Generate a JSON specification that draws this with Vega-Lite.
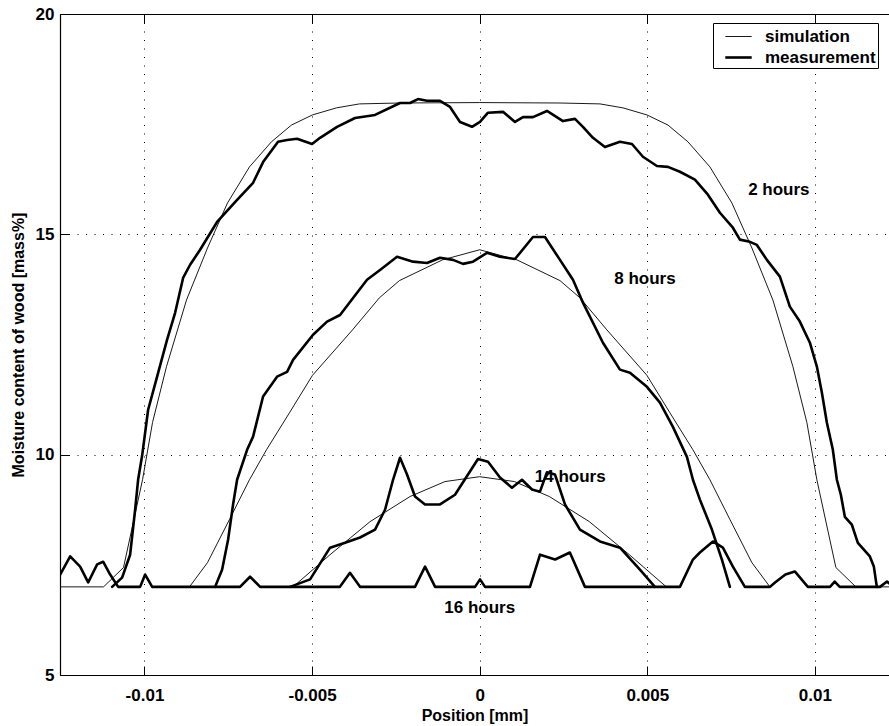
{
"$schema": "https://vega.github.io/schema/vega-lite/v6.json",
"width": 829, "height": 661,
"autosize": "none",
"padding": {"left": 60, "top": 14, "right": 0, "bottom": 51},
"background": "white",
"config": {"view": {"stroke": null}, "font": "Liberation Sans"},
"resolve": {"axis": {"x": "independent"}},
"datasets": {
"curves": [
{"curve":"s2","type":"simulation","x":-0.01252,"y":7.0},{"curve":"s2","type":"simulation","x":-0.011221,"y":7.0},{"curve":"s2","type":"simulation","x":-0.010625,"y":7.44},{"curve":"s2","type":"simulation","x":-0.010058,"y":9.43},{"curve":"s2","type":"simulation","x":-0.00976,"y":10.73},{"curve":"s2","type":"simulation","x":-0.009343,"y":12.0},{"curve":"s2","type":"simulation","x":-0.008746,"y":13.51},{"curve":"s2","type":"simulation","x":-0.00812,"y":14.69},{"curve":"s2","type":"simulation","x":-0.007524,"y":15.71},{"curve":"s2","type":"simulation","x":-0.006868,"y":16.53},{"curve":"s2","type":"simulation","x":-0.006212,"y":17.1},{"curve":"s2","type":"simulation","x":-0.005615,"y":17.48},{"curve":"s2","type":"simulation","x":-0.004989,"y":17.71},{"curve":"s2","type":"simulation","x":-0.004273,"y":17.87},{"curve":"s2","type":"simulation","x":-0.003587,"y":17.96},{"curve":"s2","type":"simulation","x":-0.002395,"y":17.98},{"curve":"s2","type":"simulation","x":0,"y":17.99},{"curve":"s2","type":"simulation","x":0.002395,"y":17.98},{"curve":"s2","type":"simulation","x":0.003587,"y":17.96},{"curve":"s2","type":"simulation","x":0.004273,"y":17.87},{"curve":"s2","type":"simulation","x":0.004989,"y":17.71},{"curve":"s2","type":"simulation","x":0.005615,"y":17.48},{"curve":"s2","type":"simulation","x":0.006212,"y":17.1},{"curve":"s2","type":"simulation","x":0.006868,"y":16.53},{"curve":"s2","type":"simulation","x":0.007524,"y":15.71},{"curve":"s2","type":"simulation","x":0.00812,"y":14.69},{"curve":"s2","type":"simulation","x":0.008746,"y":13.51},{"curve":"s2","type":"simulation","x":0.009343,"y":12.0},{"curve":"s2","type":"simulation","x":0.00976,"y":10.73},{"curve":"s2","type":"simulation","x":0.010058,"y":9.43},{"curve":"s2","type":"simulation","x":0.010625,"y":7.44},{"curve":"s2","type":"simulation","x":0.011221,"y":7.0},{"curve":"s2","type":"simulation","x":0.01221,"y":7.0},

{"curve":"m2","type":"measurement","x":-0.010965,"y":7.0},{"curve":"m2","type":"measurement","x":-0.010667,"y":7.21},{"curve":"m2","type":"measurement","x":-0.010428,"y":7.73},{"curve":"m2","type":"measurement","x":-0.010279,"y":8.75},{"curve":"m2","type":"measurement","x":-0.01019,"y":9.43},{"curve":"m2","type":"measurement","x":-0.01007,"y":9.98},{"curve":"m2","type":"measurement","x":-0.009891,"y":11.02},{"curve":"m2","type":"measurement","x":-0.009623,"y":11.77},{"curve":"m2","type":"measurement","x":-0.009325,"y":12.61},{"curve":"m2","type":"measurement","x":-0.009086,"y":13.22},{"curve":"m2","type":"measurement","x":-0.008848,"y":14.01},{"curve":"m2","type":"measurement","x":-0.008639,"y":14.31},{"curve":"m2","type":"measurement","x":-0.008341,"y":14.65},{"curve":"m2","type":"measurement","x":-0.007834,"y":15.28},{"curve":"m2","type":"measurement","x":-0.007237,"y":15.78},{"curve":"m2","type":"measurement","x":-0.00676,"y":16.17},{"curve":"m2","type":"measurement","x":-0.006462,"y":16.64},{"curve":"m2","type":"measurement","x":-0.006015,"y":17.1},{"curve":"m2","type":"measurement","x":-0.005746,"y":17.14},{"curve":"m2","type":"measurement","x":-0.005448,"y":17.17},{"curve":"m2","type":"measurement","x":-0.005001,"y":17.05},{"curve":"m2","type":"measurement","x":-0.004762,"y":17.19},{"curve":"m2","type":"measurement","x":-0.004255,"y":17.44},{"curve":"m2","type":"measurement","x":-0.003719,"y":17.64},{"curve":"m2","type":"measurement","x":-0.003122,"y":17.71},{"curve":"m2","type":"measurement","x":-0.002377,"y":17.98},{"curve":"m2","type":"measurement","x":-0.002078,"y":17.98},{"curve":"m2","type":"measurement","x":-0.00184,"y":18.07},{"curve":"m2","type":"measurement","x":-0.001572,"y":18.03},{"curve":"m2","type":"measurement","x":-0.001184,"y":18.03},{"curve":"m2","type":"measurement","x":-0.000886,"y":17.89},{"curve":"m2","type":"measurement","x":-0.000587,"y":17.55},{"curve":"m2","type":"measurement","x":-0.00023,"y":17.44},{"curve":"m2","type":"measurement","x":0.000009,"y":17.55},{"curve":"m2","type":"measurement","x":0.000248,"y":17.76},{"curve":"m2","type":"measurement","x":0.000695,"y":17.78},{"curve":"m2","type":"measurement","x":0.001053,"y":17.55},{"curve":"m2","type":"measurement","x":0.001291,"y":17.66},{"curve":"m2","type":"measurement","x":0.001589,"y":17.66},{"curve":"m2","type":"measurement","x":0.002007,"y":17.8},{"curve":"m2","type":"measurement","x":0.002484,"y":17.57},{"curve":"m2","type":"measurement","x":0.002842,"y":17.62},{"curve":"m2","type":"measurement","x":0.00308,"y":17.44},{"curve":"m2","type":"measurement","x":0.003379,"y":17.19},{"curve":"m2","type":"measurement","x":0.003736,"y":16.98},{"curve":"m2","type":"measurement","x":0.004184,"y":17.1},{"curve":"m2","type":"measurement","x":0.004542,"y":17.05},{"curve":"m2","type":"measurement","x":0.00487,"y":16.76},{"curve":"m2","type":"measurement","x":0.005287,"y":16.55},{"curve":"m2","type":"measurement","x":0.005615,"y":16.53},{"curve":"m2","type":"measurement","x":0.005973,"y":16.42},{"curve":"m2","type":"measurement","x":0.00642,"y":16.24},{"curve":"m2","type":"measurement","x":0.006808,"y":15.9},{"curve":"m2","type":"measurement","x":0.007166,"y":15.49},{"curve":"m2","type":"measurement","x":0.007553,"y":15.15},{"curve":"m2","type":"measurement","x":0.007762,"y":14.88},{"curve":"m2","type":"measurement","x":0.00806,"y":14.83},{"curve":"m2","type":"measurement","x":0.008269,"y":14.76},{"curve":"m2","type":"measurement","x":0.008567,"y":14.42},{"curve":"m2","type":"measurement","x":0.008955,"y":14.04},{"curve":"m2","type":"measurement","x":0.009253,"y":13.36},{"curve":"m2","type":"measurement","x":0.009551,"y":13.02},{"curve":"m2","type":"measurement","x":0.00985,"y":12.54},{"curve":"m2","type":"measurement","x":0.010058,"y":12.0},{"curve":"m2","type":"measurement","x":0.010207,"y":11.41},{"curve":"m2","type":"measurement","x":0.010356,"y":10.73},{"curve":"m2","type":"measurement","x":0.010535,"y":10.11},{"curve":"m2","type":"measurement","x":0.010655,"y":9.43},{"curve":"m2","type":"measurement","x":0.010774,"y":9.09},{"curve":"m2","type":"measurement","x":0.010893,"y":8.59},{"curve":"m2","type":"measurement","x":0.011102,"y":8.41},{"curve":"m2","type":"measurement","x":0.011281,"y":8.0},{"curve":"m2","type":"measurement","x":0.011639,"y":7.69},{"curve":"m2","type":"measurement","x":0.011758,"y":7.46},{"curve":"m2","type":"measurement","x":0.011847,"y":7.0},

{"curve":"s8","type":"simulation","x":-0.008657,"y":7.0},{"curve":"s8","type":"simulation","x":-0.00812,"y":7.55},{"curve":"s8","type":"simulation","x":-0.007464,"y":8.53},{"curve":"s8","type":"simulation","x":-0.006868,"y":9.43},{"curve":"s8","type":"simulation","x":-0.006361,"y":10.11},{"curve":"s8","type":"simulation","x":-0.005675,"y":10.95},{"curve":"s8","type":"simulation","x":-0.004989,"y":11.8},{"curve":"s8","type":"simulation","x":-0.003796,"y":12.83},{"curve":"s8","type":"simulation","x":-0.002991,"y":13.56},{"curve":"s8","type":"simulation","x":-0.002395,"y":13.95},{"curve":"s8","type":"simulation","x":-0.001112,"y":14.42},{"curve":"s8","type":"simulation","x":0,"y":14.65},{"curve":"s8","type":"simulation","x":0.001112,"y":14.42},{"curve":"s8","type":"simulation","x":0.002395,"y":13.95},{"curve":"s8","type":"simulation","x":0.002991,"y":13.56},{"curve":"s8","type":"simulation","x":0.003796,"y":12.83},{"curve":"s8","type":"simulation","x":0.004989,"y":11.8},{"curve":"s8","type":"simulation","x":0.005675,"y":10.95},{"curve":"s8","type":"simulation","x":0.006361,"y":10.11},{"curve":"s8","type":"simulation","x":0.006868,"y":9.43},{"curve":"s8","type":"simulation","x":0.007464,"y":8.53},{"curve":"s8","type":"simulation","x":0.00812,"y":7.55},{"curve":"s8","type":"simulation","x":0.008657,"y":7.0},

{"curve":"m8","type":"measurement","x":-0.007893,"y":7.0},{"curve":"m8","type":"measurement","x":-0.007685,"y":7.39},{"curve":"m8","type":"measurement","x":-0.007506,"y":8.07},{"curve":"m8","type":"measurement","x":-0.007357,"y":8.87},{"curve":"m8","type":"measurement","x":-0.007237,"y":9.43},{"curve":"m8","type":"measurement","x":-0.006939,"y":10.11},{"curve":"m8","type":"measurement","x":-0.00676,"y":10.41},{"curve":"m8","type":"measurement","x":-0.006462,"y":11.32},{"curve":"m8","type":"measurement","x":-0.006045,"y":11.77},{"curve":"m8","type":"measurement","x":-0.005746,"y":11.88},{"curve":"m8","type":"measurement","x":-0.005567,"y":12.15},{"curve":"m8","type":"measurement","x":-0.004971,"y":12.72},{"curve":"m8","type":"measurement","x":-0.004554,"y":13.02},{"curve":"m8","type":"measurement","x":-0.004166,"y":13.17},{"curve":"m8","type":"measurement","x":-0.003361,"y":13.97},{"curve":"m8","type":"measurement","x":-0.002973,"y":14.19},{"curve":"m8","type":"measurement","x":-0.002466,"y":14.49},{"curve":"m8","type":"measurement","x":-0.001989,"y":14.38},{"curve":"m8","type":"measurement","x":-0.001572,"y":14.35},{"curve":"m8","type":"measurement","x":-0.001184,"y":14.47},{"curve":"m8","type":"measurement","x":-0.000796,"y":14.42},{"curve":"m8","type":"measurement","x":-0.000498,"y":14.33},{"curve":"m8","type":"measurement","x":-0.0002,"y":14.38},{"curve":"m8","type":"measurement","x":0.000218,"y":14.58},{"curve":"m8","type":"measurement","x":0.000605,"y":14.49},{"curve":"m8","type":"measurement","x":0.001053,"y":14.44},{"curve":"m8","type":"measurement","x":0.001589,"y":14.94},{"curve":"m8","type":"measurement","x":0.001947,"y":14.94},{"curve":"m8","type":"measurement","x":0.002395,"y":14.42},{"curve":"m8","type":"measurement","x":0.002782,"y":13.97},{"curve":"m8","type":"measurement","x":0.00308,"y":13.45},{"curve":"m8","type":"measurement","x":0.003677,"y":12.54},{"curve":"m8","type":"measurement","x":0.004184,"y":11.93},{"curve":"m8","type":"measurement","x":0.004482,"y":11.86},{"curve":"m8","type":"measurement","x":0.004989,"y":11.54},{"curve":"m8","type":"measurement","x":0.005377,"y":11.18},{"curve":"m8","type":"measurement","x":0.005764,"y":10.63},{"curve":"m8","type":"measurement","x":0.006182,"y":9.95},{"curve":"m8","type":"measurement","x":0.006361,"y":9.43},{"curve":"m8","type":"measurement","x":0.006569,"y":8.98},{"curve":"m8","type":"measurement","x":0.006927,"y":8.3},{"curve":"m8","type":"measurement","x":0.007225,"y":7.62},{"curve":"m8","type":"measurement","x":0.007464,"y":7.0},

{"curve":"s14","type":"simulation","x":-0.005567,"y":7.0},{"curve":"s14","type":"simulation","x":-0.004464,"y":7.73},{"curve":"s14","type":"simulation","x":-0.003271,"y":8.48},{"curve":"s14","type":"simulation","x":-0.002078,"y":9.05},{"curve":"s14","type":"simulation","x":-0.001035,"y":9.39},{"curve":"s14","type":"simulation","x":0,"y":9.5},{"curve":"s14","type":"simulation","x":0.001035,"y":9.39},{"curve":"s14","type":"simulation","x":0.002078,"y":9.05},{"curve":"s14","type":"simulation","x":0.003271,"y":8.48},{"curve":"s14","type":"simulation","x":0.004464,"y":7.73},{"curve":"s14","type":"simulation","x":0.005567,"y":7.0},

{"curve":"m14","type":"measurement","x":-0.005657,"y":7.0},{"curve":"m14","type":"measurement","x":-0.00506,"y":7.17},{"curve":"m14","type":"measurement","x":-0.004464,"y":7.89},{"curve":"m14","type":"measurement","x":-0.004017,"y":8.0},{"curve":"m14","type":"measurement","x":-0.003569,"y":8.12},{"curve":"m14","type":"measurement","x":-0.003122,"y":8.3},{"curve":"m14","type":"measurement","x":-0.002824,"y":8.75},{"curve":"m14","type":"measurement","x":-0.002585,"y":9.43},{"curve":"m14","type":"measurement","x":-0.002377,"y":9.93},{"curve":"m14","type":"measurement","x":-0.002168,"y":9.55},{"curve":"m14","type":"measurement","x":-0.001929,"y":9.05},{"curve":"m14","type":"measurement","x":-0.001631,"y":8.87},{"curve":"m14","type":"measurement","x":-0.001184,"y":8.87},{"curve":"m14","type":"measurement","x":-0.000737,"y":9.09},{"curve":"m14","type":"measurement","x":-0.000349,"y":9.55},{"curve":"m14","type":"measurement","x":-0.000051,"y":9.9},{"curve":"m14","type":"measurement","x":0.000248,"y":9.84},{"curve":"m14","type":"measurement","x":0.000605,"y":9.48},{"curve":"m14","type":"measurement","x":0.000963,"y":9.25},{"curve":"m14","type":"measurement","x":0.001261,"y":9.43},{"curve":"m14","type":"measurement","x":0.00156,"y":9.21},{"curve":"m14","type":"measurement","x":0.001798,"y":9.16},{"curve":"m14","type":"measurement","x":0.002007,"y":9.6},{"curve":"m14","type":"measurement","x":0.002245,"y":9.55},{"curve":"m14","type":"measurement","x":0.002544,"y":8.87},{"curve":"m14","type":"measurement","x":0.002991,"y":8.3},{"curve":"m14","type":"measurement","x":0.003587,"y":8.03},{"curve":"m14","type":"measurement","x":0.004184,"y":7.89},{"curve":"m14","type":"measurement","x":0.00478,"y":7.39},{"curve":"m14","type":"measurement","x":0.005227,"y":7.0},

{"curve":"m16","type":"measurement","x":-0.012515,"y":7.28},{"curve":"m16","type":"measurement","x":-0.012217,"y":7.69},{"curve":"m16","type":"measurement","x":-0.011919,"y":7.46},{"curve":"m16","type":"measurement","x":-0.01168,"y":7.1},{"curve":"m16","type":"measurement","x":-0.011412,"y":7.51},{"curve":"m16","type":"measurement","x":-0.011233,"y":7.57},{"curve":"m16","type":"measurement","x":-0.011024,"y":7.28},{"curve":"m16","type":"measurement","x":-0.010785,"y":7.0},{"curve":"m16","type":"measurement","x":-0.010129,"y":7.0},{"curve":"m16","type":"measurement","x":-0.00998,"y":7.28},{"curve":"m16","type":"measurement","x":-0.00977,"y":7.0},{"curve":"m16","type":"measurement","x":-0.00715,"y":7.0},{"curve":"m16","type":"measurement","x":-0.00685,"y":7.23},{"curve":"m16","type":"measurement","x":-0.00655,"y":7.0},{"curve":"m16","type":"measurement","x":-0.00417,"y":7.0},{"curve":"m16","type":"measurement","x":-0.00387,"y":7.32},{"curve":"m16","type":"measurement","x":-0.00357,"y":7.0},{"curve":"m16","type":"measurement","x":-0.00193,"y":7.0},{"curve":"m16","type":"measurement","x":-0.00163,"y":7.46},{"curve":"m16","type":"measurement","x":-0.00133,"y":7.0},{"curve":"m16","type":"measurement","x":-0.00014,"y":7.0},{"curve":"m16","type":"measurement","x":0.00001,"y":7.17},{"curve":"m16","type":"measurement","x":0.00016,"y":7.0},{"curve":"m16","type":"measurement","x":0.0015,"y":7.0},{"curve":"m16","type":"measurement","x":0.0018,"y":7.73},{"curve":"m16","type":"measurement","x":0.00225,"y":7.62},{"curve":"m16","type":"measurement","x":0.00269,"y":7.78},{"curve":"m16","type":"measurement","x":0.00314,"y":7.0},{"curve":"m16","type":"measurement","x":0.005973,"y":7.0},{"curve":"m16","type":"measurement","x":0.006361,"y":7.62},{"curve":"m16","type":"measurement","x":0.006569,"y":7.78},{"curve":"m16","type":"measurement","x":0.006957,"y":8.03},{"curve":"m16","type":"measurement","x":0.007255,"y":7.89},{"curve":"m16","type":"measurement","x":0.007553,"y":7.46},{"curve":"m16","type":"measurement","x":0.007911,"y":7.0},{"curve":"m16","type":"measurement","x":0.00866,"y":7.0},{"curve":"m16","type":"measurement","x":0.00881,"y":7.1},{"curve":"m16","type":"measurement","x":0.00912,"y":7.28},{"curve":"m16","type":"measurement","x":0.0094,"y":7.35},{"curve":"m16","type":"measurement","x":0.00979,"y":7.0},{"curve":"m16","type":"measurement","x":0.01045,"y":7.0},{"curve":"m16","type":"measurement","x":0.01059,"y":7.12},{"curve":"m16","type":"measurement","x":0.01074,"y":7.0},{"curve":"m16","type":"measurement","x":0.01194,"y":7.0},{"curve":"m16","type":"measurement","x":0.01215,"y":7.12},{"curve":"m16","type":"measurement","x":0.01221,"y":7.08}
],
"labels": [
{"text":"2 hours","x":0.008925,"y":16.01},
{"text":"8 hours","x":0.00493,"y":13.99},
{"text":"14 hours","x":0.0027,"y":9.5},
{"text":"16 hours","x":0,"y":6.53}
]
},
"layer": [
{
"data": {"name": "curves"},
"mark": {"type": "line", "clip": true, "color": "black", "strokeJoin": "round", "strokeCap": "round"},
"encoding": {
"x": {"field": "x", "type": "quantitative",
 "scale": {"domain": [-0.01252, 0.01221], "nice": false, "zero": false},
 "axis": {"orient": "bottom", "values": [-0.01, -0.005, 0, 0.005, 0.01], "labelExpr": "'' + datum.value",
  "title": "Position [mm]", "titleFontSize": 16, "titleFontWeight": "bold", "titleColor": "black", "titlePadding": 4,
  "labelFontSize": 17, "labelFontWeight": "bold", "labelColor": "black", "labelPadding": 21, "labelFlush": false,
  "grid": true, "gridColor": "black", "gridDash": [1, 7.5], "gridWidth": 1,
  "domainColor": "black", "domainWidth": 1.2, "tickColor": "black", "tickSize": -9, "tickWidth": 1}},
"y": {"field": "y", "type": "quantitative",
 "scale": {"domain": [5, 20], "nice": false, "zero": false},
 "axis": {"values": [5, 10, 15, 20], "title": "Moisture content of wood [mass%]", "titleFontSize": 16, "titleFontWeight": "bold", "titleColor": "black", "titlePadding": 9,
  "labelFontSize": 17, "labelFontWeight": "bold", "labelColor": "black", "labelPadding": 15,
  "grid": true, "gridColor": "black", "gridDash": [1, 7.5], "gridWidth": 1,
  "domainColor": "black", "domainWidth": 1.2, "tickColor": "black", "tickSize": -9, "tickWidth": 1}},
"detail": {"field": "curve"},
"strokeWidth": {"field": "type", "type": "ordinal",
 "scale": {"domain": ["simulation", "measurement"], "range": [0.9, 2.6]},
 "legend": {"orient": "none", "legendX": 653, "legendY": 9, "title": null, "symbolType": "M-1.2,0H1.2", "symbolSize": 484,
  "symbolStrokeColor": "black", "labelFontSize": 17, "labelFontWeight": "bold", "labelColor": "black", "labelOffset": 14,
  "strokeColor": "black", "fillColor": "white", "padding": 2, "rowPadding": 0, "symbolOffset": 11, "cornerRadius": 0}}
}
},
{
"data": {"name": "labels"},
"mark": {"type": "text", "fontSize": 17, "fontWeight": "bold", "color": "black", "align": "center", "baseline": "middle"},
"encoding": {
"x": {"field": "x", "type": "quantitative",
 "axis": {"orient": "top", "values": [-0.01, -0.005, 0, 0.005, 0.01], "labels": false, "title": null, "grid": false,
  "domainColor": "black", "domainWidth": 1.2, "tickColor": "black", "tickSize": -9, "tickWidth": 1}},
"y": {"field": "y", "type": "quantitative"},
"text": {"field": "text"}
}
}
]
}
